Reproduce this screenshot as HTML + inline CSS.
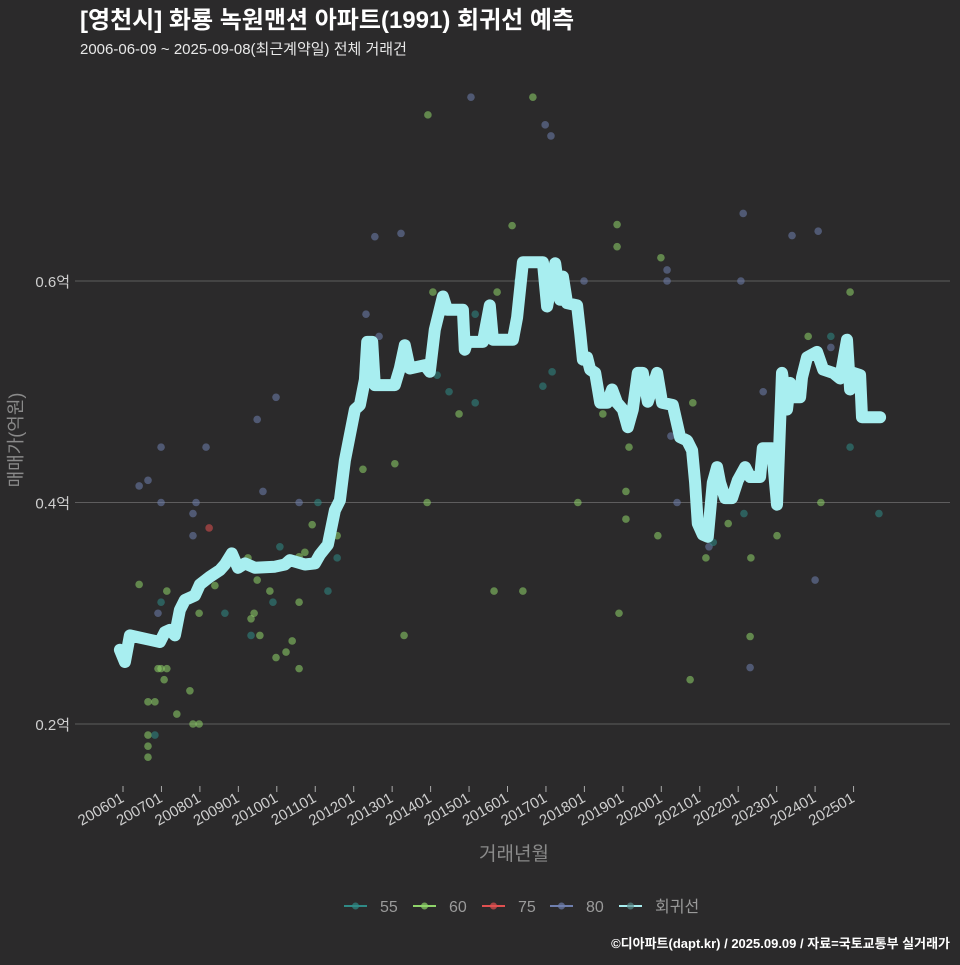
<!DOCTYPE html>
<html><head><meta charset="utf-8">
<style>
html,body{margin:0;padding:0;background:#2b2a2b;}
body{width:960px;height:960px;overflow:hidden;font-family:"Liberation Sans","Noto Sans CJK KR",sans-serif;}
</style></head>
<body>
<svg id="chart" width="960" height="960" xmlns="http://www.w3.org/2000/svg" style="font-family:'Liberation Sans','Noto Sans CJK KR',sans-serif">
<rect width="960" height="960" fill="#2b2a2b"/>
<text x="80" y="28" fill="#ffffff" font-size="24" font-weight="bold">[영천시] 화룡 녹원맨션 아파트(1991) 회귀선 예측</text>
<text x="80" y="54" fill="#e8e8e8" font-size="15">2006-06-09 ~ 2025-09-08(최근계약일) 전체 거래건</text>
<g id="grid"></g>
<g id="yticks"></g>
<g id="xticks"></g>
<g id="points"></g>
<g id="line"></g>
<text transform="translate(22,440) rotate(-90)" text-anchor="middle" fill="#8a8a8a" font-size="18">매매가(억원)</text>
<text x="514" y="860" text-anchor="middle" fill="#8a8a8a" font-size="19">거래년월</text>
<g id="legend"></g>
<text x="950" y="948" text-anchor="end" fill="#ffffff" font-size="13" font-weight="bold">©디아파트(dapt.kr) / 2025.09.09 / 자료=국토교통부 실거래가</text>
</svg>
<script>
const yTicks=[0.2,0.4,0.6];
const yTickLabels=["0.2억","0.4억","0.6억"];
const xTickYears=[2006,2007,2008,2009,2010,2011,2012,2013,2014,2015,2016,2017,2018,2019,2020,2021,2022,2023,2024,2025];
const xTickLabels=["200601","200701","200801","200901","201001","201101","201201","201301","201401","201501","201601","201701","201801","201901","202001","202101","202201","202301","202401","202501"];
const lineYears=[2005.92,2006.05,2006.18,2006.44,2006.70,2006.96,2007.09,2007.22,2007.35,2007.48,2007.61,2007.87,2008.00,2008.26,2008.52,2008.65,2008.83,2008.99,2009.17,2009.43,2009.95,2010.21,2010.34,2010.73,2010.99,2011.12,2011.33,2011.51,2011.64,2011.77,2011.90,2012.03,2012.16,2012.29,2012.35,2012.48,2012.55,2013.07,2013.20,2013.33,2013.46,2013.85,2013.98,2014.11,2014.32,2014.43,2014.84,2014.89,2014.95,2015.36,2015.54,2015.62,2016.14,2016.25,2016.40,2016.92,2017.03,2017.24,2017.37,2017.44,2017.55,2017.81,2017.89,2017.96,2018.07,2018.15,2018.28,2018.41,2018.59,2018.72,2018.85,2019.00,2019.13,2019.26,2019.39,2019.52,2019.65,2019.89,2020.02,2020.30,2020.49,2020.67,2020.80,2020.88,2020.95,2021.08,2021.21,2021.34,2021.45,2021.53,2021.66,2021.84,2021.99,2022.18,2022.31,2022.57,2022.64,2022.88,2023.01,2023.14,2023.27,2023.35,2023.43,2023.61,2023.66,2023.79,2024.05,2024.21,2024.47,2024.65,2024.83,2024.91,2024.99,2025.17,2025.22,2025.69];
const lineValues=[0.267,0.256,0.280,0.278,0.276,0.274,0.283,0.285,0.280,0.303,0.312,0.316,0.326,0.333,0.339,0.344,0.354,0.341,0.345,0.341,0.342,0.344,0.348,0.344,0.345,0.353,0.362,0.393,0.402,0.438,0.461,0.484,0.488,0.511,0.545,0.545,0.506,0.506,0.521,0.542,0.521,0.524,0.518,0.556,0.586,0.574,0.574,0.538,0.545,0.545,0.578,0.547,0.547,0.567,0.617,0.617,0.577,0.616,0.583,0.604,0.580,0.578,0.553,0.529,0.531,0.520,0.517,0.490,0.490,0.502,0.490,0.484,0.468,0.484,0.517,0.517,0.491,0.517,0.490,0.488,0.459,0.456,0.447,0.418,0.381,0.371,0.369,0.418,0.432,0.418,0.404,0.404,0.420,0.432,0.423,0.423,0.449,0.449,0.398,0.517,0.484,0.508,0.495,0.495,0.513,0.531,0.536,0.520,0.517,0.512,0.547,0.502,0.517,0.515,0.477,0.477];
const pointYears=[2013.93,2015.05,2016.66,2016.98,2017.13,2016.12,2014.06,2015.73,2012.32,2012.66,2015.16,2016.27,2017.99,2014.17,2017.16,2016.92,2014.48,2015.16,2014.74,2009.98,2009.49,2006.99,2008.16,2006.65,2006.42,2009.64,2006.99,2007.90,2010.58,2011.07,2013.91,2017.83,2007.82,2008.24,2007.82,2012.24,2013.07,2010.92,2011.57,2011.57,2010.08,2009.25,2010.73,2010.58,2006.42,2007.14,2008.39,2009.49,2009.82,2011.33,2006.99,2009.90,2010.58,2006.91,2007.98,2008.65,2009.41,2009.33,2009.33,2009.56,2010.40,2010.24,2009.98,2010.58,2015.65,2016.40,2013.31,2006.91,2006.99,2007.14,2007.07,2007.74,2006.65,2006.83,2007.40,2007.82,2007.98,2006.65,2006.83,2006.65,2006.65,2019.99,2020.15,2020.15,2022.07,2024.91,2023.82,2024.41,2024.41,2022.65,2020.82,2018.48,2019.16,2020.25,2024.91,2019.08,2020.41,2024.15,2019.08,2022.15,2025.66,2019.91,2021.74,2023.01,2021.24,2021.35,2021.16,2022.33,2022.13,2024.08,2023.40,2018.85,2018.85,2022.31,2022.31,2024.00,2020.75,2018.90,2013.23,2012.55];
const pointValues=[0.750,0.766,0.766,0.741,0.731,0.650,0.590,0.590,0.570,0.550,0.570,0.600,0.600,0.515,0.518,0.505,0.500,0.490,0.480,0.495,0.475,0.450,0.450,0.420,0.415,0.410,0.400,0.400,0.400,0.400,0.400,0.400,0.390,0.377,0.370,0.430,0.435,0.380,0.370,0.350,0.360,0.350,0.355,0.351,0.326,0.320,0.325,0.330,0.320,0.320,0.310,0.310,0.310,0.300,0.300,0.300,0.300,0.295,0.280,0.280,0.275,0.265,0.260,0.250,0.320,0.320,0.280,0.250,0.250,0.250,0.240,0.230,0.220,0.220,0.209,0.200,0.200,0.190,0.190,0.180,0.170,0.621,0.610,0.600,0.600,0.590,0.550,0.550,0.540,0.500,0.490,0.480,0.450,0.460,0.450,0.410,0.400,0.400,0.385,0.390,0.390,0.370,0.381,0.370,0.360,0.364,0.350,0.350,0.661,0.645,0.641,0.651,0.631,0.279,0.251,0.330,0.240,0.300,0.643,0.640];
const pointTypes=["60","80","60","80","80","60","60","60","80","80","55","55","80","55","55","55","55","55","60","80","80","80","80","80","80","80","80","80","80","55","60","60","80","75","80","60","60","60","60","55","55","60","60","60","60","60","60","60","60","55","55","55","60","80","60","55","60","60","55","60","60","60","60","60","60","60","60","60","60","60","60","60","60","60","60","60","60","60","55","60","60","60","80","80","80","60","60","55","80","80","60","60","60","80","55","60","80","60","60","55","55","60","60","60","80","55","60","60","80","80","80","60","60","60","80","80","60","60","80","80"];
const legendKeys=["55","60","75","80","회귀선"];
const typeColors={"55":"#2f8a86","60":"#8fd46a","75":"#e05050","80":"#6f7fae"};

const NS="http://www.w3.org/2000/svg";
function xs(yr){return 123+(yr-2006)*38.45;}
function ys(v){return 281+(0.6-v)*1107.5;}
function mk(tag,attrs,parent){const e=document.createElementNS(NS,tag);for(const k in attrs)e.setAttribute(k,attrs[k]);parent.appendChild(e);return e;}

const grid=document.getElementById('grid'),yt=document.getElementById('yticks');
yTicks.forEach((v,i)=>{
  const l=mk('line',{x1:75,x2:950,y1:ys(v),y2:ys(v),stroke:'#5e5d5e','stroke-width':1},grid);
  
  
  const t=mk('text',{x:70,y:ys(v)+6,'text-anchor':'end',fill:'#cfcfcf','font-size':15},yt);
  t.textContent=yTickLabels[i];
  
  
});
const xt=document.getElementById('xticks');
xTickYears.forEach((yr,i)=>{
  const x=xs(yr);
  const l=mk('line',{x1:x,x2:x,y1:786,y2:792,stroke:'#aaaaaa','stroke-width':1},xt);
  
  
  const t=mk('text',{x:x+2,y:801,'text-anchor':'end',fill:'#cfcfcf','font-size':15,transform:`rotate(-30 ${x+2} 801)`},xt);
  t.textContent=xTickLabels[i];
  
  
});
const pg=document.getElementById('points');
pointYears.forEach((yr,i)=>{
  const c=mk('circle',{cx:xs(yr),cy:ys(pointValues[i]),r:3.8,fill:typeColors[pointTypes[i]],'fill-opacity':0.55},pg);
  
  
});
const lg=document.getElementById('line');
const d=lineYears.map((yr,i)=>(i?'L':'M')+xs(yr).toFixed(1)+','+ys(lineValues[i]).toFixed(1)).join(' ');
const p=mk('path',{d:d,fill:'none',stroke:'#a8eef0','stroke-width':12,'stroke-linejoin':'round','stroke-linecap':'round'},lg);



const leg=document.getElementById('legend');
const legX=[344,413,482,550,619];
const legColors=["#2f8a86","#8fd46a","#e05050","#6f7fae","#a8eef0"];
legendKeys.forEach((k,i)=>{
  const g=mk('g',{},leg);
  
  
  mk('line',{x1:legX[i],x2:legX[i]+23,y1:906,y2:906,stroke:legColors[i],'stroke-width':2},g);
  mk('circle',{cx:legX[i]+11.5,cy:906,r:3.5,fill:i==4?'#5a8a8a':legColors[i],'fill-opacity':0.7},g);
  const t=mk('text',{x:legX[i]+36,y:912,fill:'#9a9a9a','font-size':16},g);
  t.textContent=k;
});
</script>
</body></html>
